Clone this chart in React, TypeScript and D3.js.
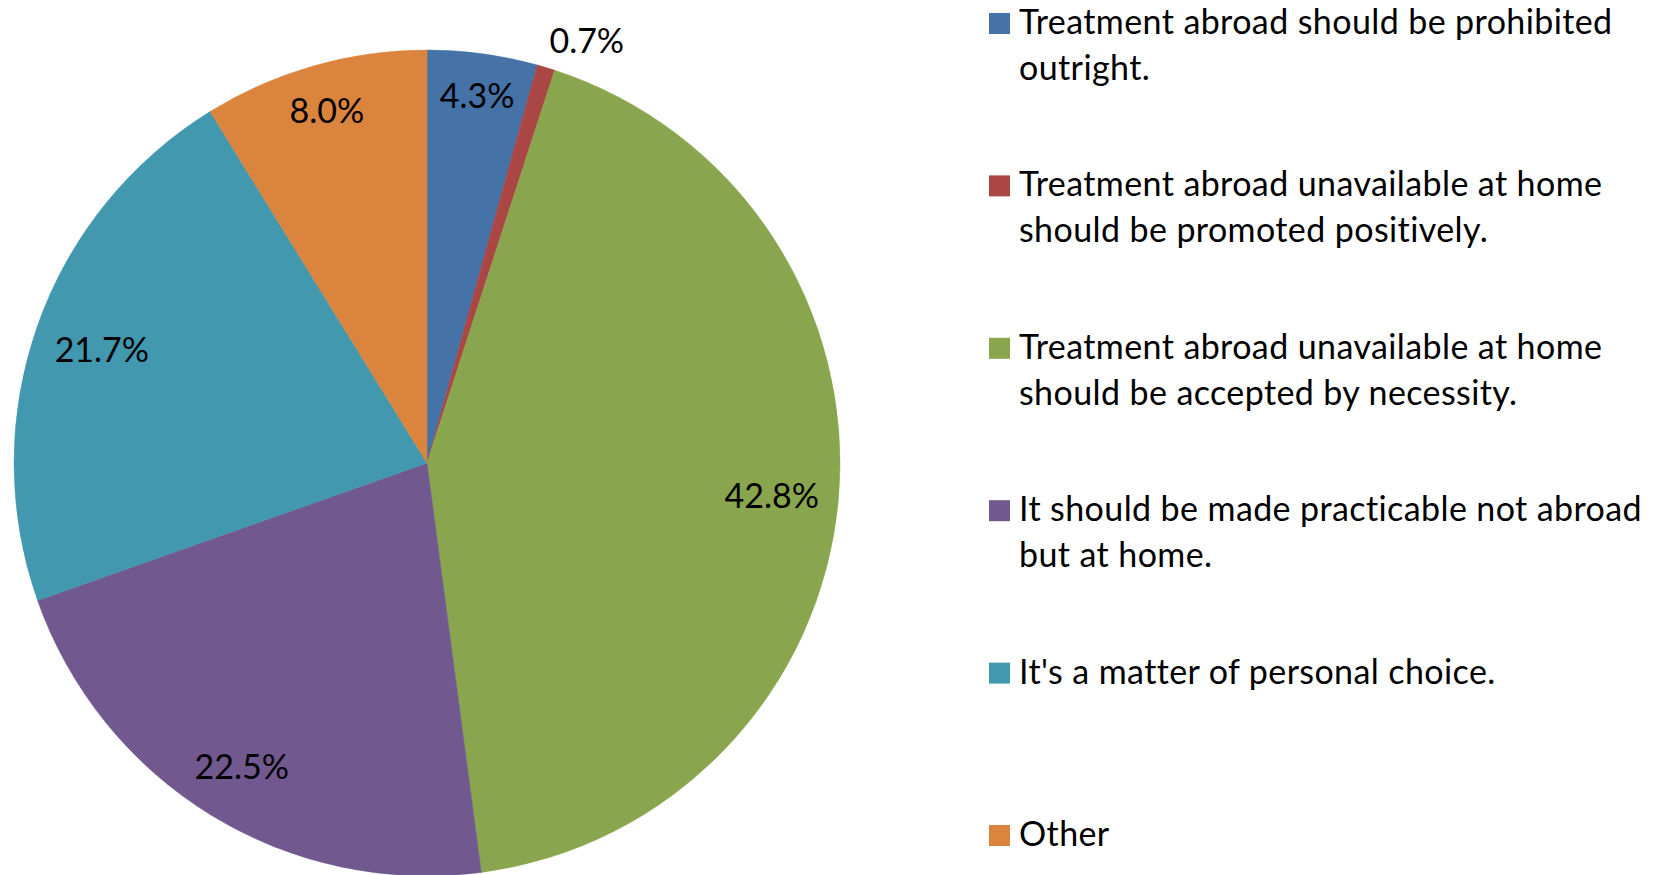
import React from "react";
import * as d3 from "d3";

const categories: string[][] = [
  ["Treatment abroad should be prohibited", "outright."],
  ["Treatment abroad unavailable at home", "should be promoted positively."],
  ["Treatment abroad unavailable at home", "should be accepted by necessity."],
  ["It should be made practicable not abroad", "but at home."],
  ["It's a matter of personal choice."],
  ["Other"],
];
// slice sizes as drawn in the picture (angles measured from the slices)
const values: number[] = [4.3, 0.7, 42.9, 21.7, 21.6, 8.8];
// data labels as printed on the chart
const labels: string[] = ["4.3%", "0.7%", "42.8%", "22.5%", "21.7%", "8.0%"];
const colors: string[] = ["#4572A7", "#AA4643", "#89A54E", "#71588F", "#4198AF", "#DB843D"];

const W = 1660;
const H = 875;
const FONT = "Lato, 'Open Sans', sans-serif";
const LABEL_FS = 34;
const LEGEND_FS = 34;

let measureCtx: CanvasRenderingContext2D | null = null;
function textWidth(t: string, fs: number): number {
  if (!measureCtx) measureCtx = document.createElement("canvas").getContext("2d");
  if (!measureCtx) return t.length * fs * 0.53;
  measureCtx.font = `${fs}px Lato`;
  return measureCtx.measureText(t).width;
}

export default function App() {
  const cx = 427;
  const cy = 463;
  const R = 413;
  const pie = d3.pie<number>().sort(null).value((d) => d)(values);
  const arc = d3.arc<d3.PieArcDatum<number>>().innerRadius(0).outerRadius(R);

  const legendX = 989;
  const legendTop = 13;
  const rowStep = 162.4;
  const sq = 21;
  const lineH = 46;

  const labelPos = (p: d3.PieArcDatum<number>, text: string): [number, number] => {
    const mid = (p.startAngle + p.endAngle) / 2;
    const dx = Math.sin(mid);
    const dy = -Math.cos(mid);
    const hw = textWidth(text, LABEL_FS) / 2;
    const hh = LABEL_FS / 2;
    const sx = dx >= 0 ? 1 : -1;
    const sy = dy >= 0 ? 1 : -1;
    const small = p.endAngle - p.startAngle < 0.1;
    if (small) {
      // outside end: box corner touches a point just outside the rim
      const rr = R + 12;
      return [rr * dx + sx * hw, rr * dy + sy * hh];
    }
    // inside end: farthest box corner sits just inside the rim
    const L = R - 18;
    const a = sx * hw;
    const b = sy * hh;
    const pp = dx * a + dy * b;
    const t = -pp + Math.sqrt(pp * pp - (a * a + b * b) + L * L);
    return [t * dx, t * dy];
  };

  return (
    <svg width={W} height={H} style={{ position: "absolute", left: 0, top: 0, background: "#fff" }}>
      <g transform={`translate(${cx},${cy})`}>
        {pie.map((p, i) => (
          <path key={i} d={arc(p) || ""} fill={colors[i]} stroke={colors[i]} strokeWidth={0.5} />
        ))}
        {pie.map((p, i) => {
          const [x, y] = labelPos(p, labels[i]);
          return (
            <text key={i} x={x} y={y} textAnchor="middle" dominantBaseline="central" fontFamily={FONT} fontSize={LABEL_FS} fill="#000">
              {labels[i]}
            </text>
          );
        })}
      </g>
      {categories.map((lines, i) => {
        const y0 = legendTop + i * rowStep;
        return (
          <g key={i}>
            <rect x={legendX} y={y0} width={sq} height={sq} fill={colors[i]} />
            {lines.map((t, j) => (
              <text key={j} x={1019} y={y0 + sq + j * lineH} fontFamily={FONT} fontSize={LEGEND_FS} letterSpacing={0.4} fill="#000">
                {t}
              </text>
            ))}
          </g>
        );
      })}
    </svg>
  );
}
